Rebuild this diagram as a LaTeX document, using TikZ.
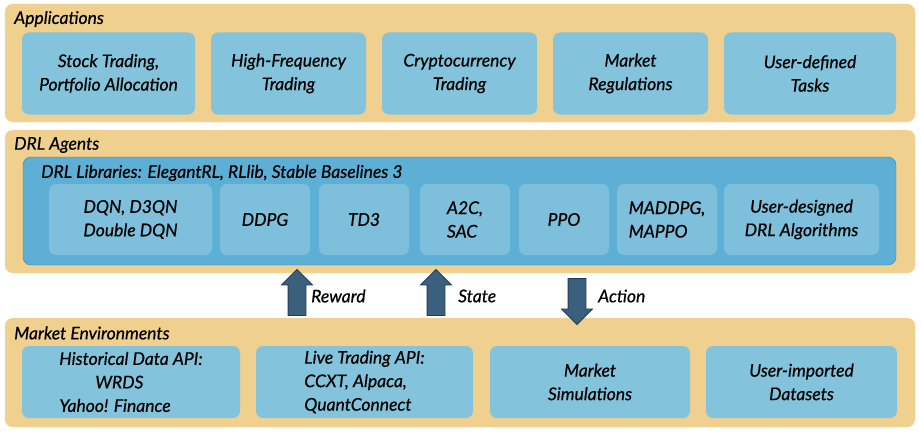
\documentclass[tikz,border=0pt]{standalone}
\usepackage{fontspec}
\setmainfont{Lato}[ItalicFeatures={FakeBold=0.6}]
\usepackage{tikz}
\usetikzlibrary{shapes.arrows, positioning}
\usepackage{xcolor}
\definecolor{sand}{HTML}{F0D08F}
\definecolor{boxblue}{HTML}{84C3DC}
\definecolor{libblue}{HTML}{5DAFD6}
\definecolor{libline}{HTML}{2F87B5}
\definecolor{arrowfill}{HTML}{3A607D}
\definecolor{arrowline}{HTML}{1D3B55}

\begin{document}
\begin{tikzpicture}[
    x=1pt, y=-1pt,
    layer/.style={fill=sand, draw=sand!80!white, rounded corners=8pt, inner sep=0pt},
    title/.style={anchor=west, inner sep=0pt, font=\fontsize{17.5}{21}\selectfont\itshape},
    item/.style={fill=boxblue, rounded corners=7pt, inner sep=0pt, align=center, font=\fontsize{17.5}{23.5}\selectfont\itshape},
    lib/.style={fill=libblue, draw=libline, rounded corners=8pt, inner sep=0pt},
    algo/.style={fill=boxblue!85!libblue, rounded corners=7pt, inner sep=0pt, align=center, font=\fontsize{17.5}{23.5}\selectfont\itshape},
    flow/.style={single arrow, fill=arrowfill, draw=arrowline, thick, text height=8.5pt, text depth=8.5pt, minimum width=30pt, minimum height=46pt, single arrow head extend=6.5pt, inner sep=0pt},
    flowlabel/.style={anchor=west, inner sep=0pt, font=\fontsize{17.5}{21}\selectfont\itshape}
]
\useasboundingbox (0,0) rectangle (921,436);

% layers
\node[layer, minimum width=910pt, minimum height=118pt] (apps) at (460,63) {};
\node[layer, minimum width=910pt, minimum height=143pt] (agents) at (460,201.5) {};
\node[layer, minimum width=910pt, minimum height=109pt] (envs) at (460,372.5) {};
\node[title] (appst) at (14,19) {Applications};
\node[title] (agentst) at (14,145) {DRL Agents};
\node[title] (envst) at (14,333) {Market Environments};

% applications
\node[item, minimum width=173pt, minimum height=82pt] (stock) at (108.5,73.5) {Stock Trading,\\Portfolio Allocation};
\node[item, minimum width=155pt, minimum height=82pt] (hft) at (288.5,73.5) {High-Frequency\\Trading};
\node[item, minimum width=155pt, minimum height=82pt] (crypto) at (459.5,73.5) {Cryptocurrency\\Trading};
\node[item, minimum width=155pt, minimum height=82pt] (reg) at (630.5,73.5) {Market\\Regulations};
\node[item, minimum width=172pt, minimum height=82pt] (tasks) at (810,73.5) {User-defined\\Tasks};

% drl libraries
\node[lib, minimum width=873pt, minimum height=108pt] (libs) at (459.5,211) {};
\node[title] (libst) at (41,173) {DRL Libraries: ElegantRL, RLlib, Stable Baselines 3};
\node[algo, minimum width=163pt, minimum height=71pt] (dqn) at (130.5,219.5) {DQN, D3QN\\Double DQN};
\node[algo, minimum width=90pt, minimum height=71pt] (ddpg) at (265,219.5) {DDPG};
\node[algo, minimum width=90pt, minimum height=71pt] (td3) at (364,219.5) {TD3};
\node[algo, minimum width=90pt, minimum height=71pt, align=left] (a2c) at (465,219.5) {A2C,\\SAC};
\node[algo, minimum width=90pt, minimum height=71pt] (ppo) at (564,219.5) {PPO};
\node[algo, minimum width=100pt, minimum height=71pt, align=left] (maddpg) at (667,219.5) {MADDPG,\\MAPPO};
\node[algo, minimum width=155pt, minimum height=71pt] (userdrl) at (801.5,219.5) {User-designed\\DRL Algorithms};

% environments
\node[item, minimum width=218pt, minimum height=72pt, align=left] (hist) at (131,382) {Historical Data API:\\\hspace{36pt}WRDS\\Yahoo! Finance};
\node[item, minimum width=217pt, minimum height=72pt, align=left] (live) at (364.5,382) {Live Trading API:\\CCXT, Alpaca,\\QuantConnect};
\node[item, minimum width=200pt, minimum height=72pt] (sim) at (590,382) {Market\\Simulations};
\node[item, minimum width=191pt, minimum height=72pt] (userdata) at (801.5,382) {User-imported\\Datasets};

% interaction
\node[flow, rotate=90] (reward) at (297,297) {};
\node[flow, rotate=90] (state) at (436,297) {};
\node[flow, rotate=-90] (action) at (577,297) {};
\node[flowlabel] (rewardl) at (311,296) {Reward};
\node[flowlabel] (statel) at (458,296) {State};
\node[flowlabel] (actionl) at (598,296) {Action};

\end{tikzpicture}
\end{document}
